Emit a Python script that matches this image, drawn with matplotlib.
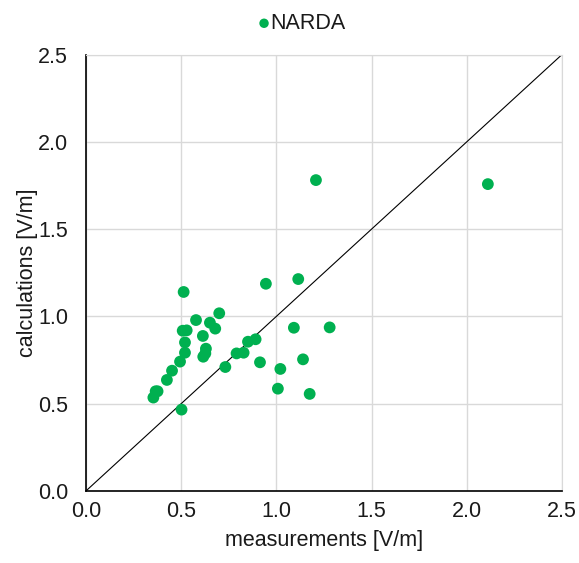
import matplotlib.pyplot as plt

plt.rcParams['font.family'] = ['Liberation Sans', 'DejaVu Sans']

meas = [0.513, 0.945, 1.115, 0.700, 0.578, 0.651, 0.679, 0.508, 0.529, 0.614,
        1.092, 1.280, 0.520, 0.891, 0.851, 0.630, 0.520, 0.616, 0.627, 0.791,
        0.828, 1.140, 0.494, 0.914, 0.452, 0.732, 1.021, 0.425, 0.366, 0.354,
        0.376, 1.008, 1.175, 0.502, 1.208, 2.111]
calc = [1.140, 1.187, 1.214, 1.018, 0.979, 0.964, 0.930, 0.918, 0.920, 0.888,
        0.935, 0.937, 0.851, 0.869, 0.855, 0.815, 0.792, 0.769, 0.788, 0.788,
        0.792, 0.754, 0.741, 0.737, 0.689, 0.710, 0.699, 0.636, 0.571, 0.535,
        0.571, 0.586, 0.556, 0.466, 1.781, 1.758]
ticks = [0.0, 0.5, 1.0, 1.5, 2.0, 2.5]

fig = plt.figure(figsize=(5.79, 5.63), dpi=100)
ax = fig.add_axes([0.1485, 0.128, 0.822, 0.775])

ax.plot([0, 2.5], [0, 2.5], color='black', lw=0.8, zorder=2)
ax.scatter(meas, calc, s=72, color='#00B050', zorder=3, label='NARDA', edgecolors='none')

ax.set_xlim(0, 2.5)
ax.set_ylim(0, 2.5)
ax.set_xticks(ticks)
ax.set_yticks(ticks)
ax.set_xticklabels([f'{t:.1f}' for t in ticks])
ax.set_yticklabels([f'{t:.1f}' for t in ticks])
ax.tick_params(length=0, labelsize=15.5, colors='#404040')
ax.tick_params(axis='x', pad=7)
ax.tick_params(axis='y', pad=13)
ax.tick_params(labelcolor='#1a1a1a')
ax.grid(True, color='#d9d9d9', lw=1)
ax.set_axisbelow(True)
for s in ['top', 'right']:
    ax.spines[s].set_color('#d9d9d9')
for s in ['left', 'bottom']:
    ax.spines[s].set_color('black')
    ax.spines[s].set_linewidth(1.2)

ax.set_xlabel('measurements [V/m]', fontsize=15.5, labelpad=6, color='#1a1a1a')
ax.set_ylabel('calculations [V/m]', fontsize=15.5, labelpad=0, color='#1a1a1a')

leg = fig.legend(loc='upper center', bbox_to_anchor=(0.508, 1.0), frameon=False,
                 fontsize=15.5, handletextpad=-0.7, markerscale=0.8, borderaxespad=0.2)
for t in leg.get_texts():
    t.set_color('#1a1a1a')

fig.savefig('out.png', dpi=100)
